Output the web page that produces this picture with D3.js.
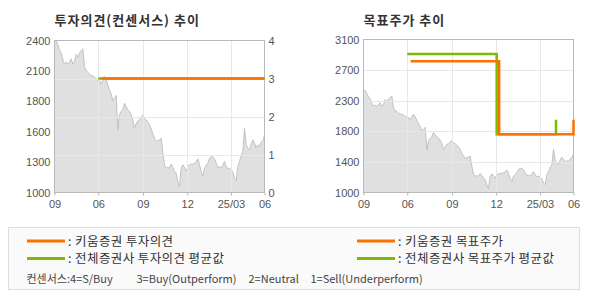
<!DOCTYPE html>
<html>
<head>
<meta charset="utf-8">
<title>투자의견 / 목표주가 추이</title>
<style>
  body { margin: 0; background: #fff; }
  svg text { font-family: "Liberation Sans", Arial, sans-serif; }
  .kr { font-family: "Noto Sans CJK KR", sans-serif; }
  .axis text { fill: #555; font-size: 11px; }
  .axis line { stroke: #b5b5b5; }
  .axis path { display: none; }
  .grid line { stroke: #e8e8e8; shape-rendering: crispEdges; }
</style>
<script src="https://cdn.jsdelivr.net/npm/d3@7"></script>
</head>
<body>
<script>
// ---- data ----
var startDate = "2024-03-03", endDate = "2025-05-09";

// closing price, evenly spaced from startDate to endDate
var prices = [
  2397, 2400, 2360, 2314, 2284, 2222, 2182, 2201, 2182, 2201, 2231, 2182, 2207, 2274, 2244, 2284,
  2305, 2324, 2161, 2121, 2109, 2090, 2078, 2075, 2063, 2047, 2035, 2029, 1998, 2038, 2072, 2038,
  1992, 1946, 1906, 1845, 1869, 1894, 1578, 1716, 1746, 1762, 1823, 1792, 1762, 1746, 1716, 1670,
  1593, 1630, 1660, 1670, 1691, 1716, 1679, 1670, 1648, 1624, 1587, 1538, 1501, 1470, 1476, 1485,
  1501, 1363, 1255, 1224, 1231, 1224, 1261, 1231, 1194, 1178, 1102, 1056, 1224, 1255, 1231, 1194,
  1240, 1255, 1261, 1261, 1267, 1286, 1310, 1255, 1194, 1148, 1224, 1249, 1270, 1317, 1329, 1329,
  1310, 1270, 1231, 1237, 1224, 1255, 1286, 1240, 1218, 1224, 1209, 1188, 1132, 1108, 1240, 1286,
  1341, 1378, 1593, 1439, 1409, 1393, 1445, 1485, 1455, 1409, 1439, 1424, 1464, 1470, 1532
];

var tickDates = ["2024-03-03", "2024-06-01", "2024-09-01", "2024-12-01", "2025-03-01", "2025-05-09"];
var tickLabels = ["09", "06", "09", "12", "25/03", "06"];

var ratingTicks = [0, 1, 2, 3, 4];
var priceLabelsLeft = ["1000", "1300", "1600", "1800", "2100", "2400"];
var priceLabelsRight = ["1000", "1400", "1800", "2300", "2700", "3100"];

// 투자의견 (4=S/Buy ... 1=Sell)
var ratingKiwoom = [["2024-06-08", 3], ["2025-05-09", 3]];
var ratingConsensus = [["2024-06-01", 3], ["2025-05-09", 3]];

// 목표주가
var targetKiwoom = [["2024-06-08", 2800], ["2024-12-07", 1800], ["2025-05-09", 2000]];
var targetConsensus = [["2024-06-01", 2900], ["2024-12-02", 1800], ["2025-04-03", 2000]];

var legendLeft = ["키움증권 투자의견", "전체증권사 투자의견 평균값"];
var legendRight = ["키움증권 목표주가", "전체증권사 목표주가 평균값"];
var consensusNote = ["컨센서스:4=S/Buy", "3=Buy(Outperform)", "2=Neutral", "1=Sell(Underperform)"];

// ---- setup ----
var orange = "#fb7200", green = "#7cba08";
var parse = d3.timeParse("%Y-%m-%d");
var t0 = parse(startDate), t1 = parse(endDate);
var priceData = prices.map(function(v, i) {
  return { date: d3.interpolateDate(t0, t1)(i / (prices.length - 1)), value: v };
});

var svg = d3.select("body").append("svg")
    .attr("width", 590)
    .attr("height", 300);

function panel(o) {
  var x = d3.scaleTime().domain([t0, t1]).range([o.left, o.right]);
  var yP = d3.scaleLinear().domain(o.priceDomain).range([o.bottom, o.top]);
  var g = svg.append("g");

  g.append("text")
      .attr("class", "kr")
      .attr("x", o.left)
      .attr("y", 25)
      .attr("font-size", "13px")
      .attr("font-weight", "bold")
      .attr("letter-spacing", "1px")
      .attr("fill", "#333")
      .text(o.title);

  // price area
  g.append("path")
      .datum(priceData)
      .attr("fill", "#e0e0e0")
      .attr("d", d3.area()
          .x(function(d) { return x(d.date); })
          .y0(o.bottom)
          .y1(function(d) { return yP(d.value); }));
  g.append("path")
      .datum(priceData)
      .attr("fill", "none")
      .attr("stroke", "#c2c2c2")
      .attr("stroke-width", 1)
      .attr("d", d3.line()
          .x(function(d) { return x(d.date); })
          .y(function(d) { return yP(d.value); }));

  // grid
  var grid = g.append("g").attr("class", "grid");
  grid.selectAll(".v")
      .data(tickDates.slice(1, -1))
      .enter().append("line")
      .attr("x1", function(d) { return Math.round(x(parse(d))) + 0.5; })
      .attr("x2", function(d) { return Math.round(x(parse(d))) + 0.5; })
      .attr("y1", o.top)
      .attr("y2", o.bottom);
  grid.selectAll(".h")
      .data(o.hGrid)
      .enter().append("line")
      .attr("x1", o.left)
      .attr("x2", o.right)
      .attr("y1", function(d) { return Math.round(o.hScale(d)) + 0.5; })
      .attr("y2", function(d) { return Math.round(o.hScale(d)) + 0.5; });

  // frame
  g.append("rect")
      .attr("x", o.left)
      .attr("y", o.top)
      .attr("width", o.right - o.left)
      .attr("height", o.bottom - o.top)
      .attr("fill", "none")
      .attr("stroke", "#b9b9b9")
      .attr("shape-rendering", "crispEdges");

  // left price axis, labels evenly spaced
  var step = (o.priceDomain[1] - o.priceDomain[0]) / (o.priceLabels.length - 1);
  g.append("g")
      .attr("class", "axis")
      .attr("transform", "translate(" + o.left + ",0)")
      .call(d3.axisLeft(yP)
          .tickValues(o.priceLabels.map(function(d, i) { return o.priceDomain[0] + i * step; }))
          .tickFormat(function(d, i) { return o.priceLabels[i]; })
          .tickSize(0).tickPadding(4));

  g.append("g")
      .attr("class", "axis")
      .attr("transform", "translate(0," + o.bottom + ")")
      .call(d3.axisBottom(x)
          .tickValues(tickDates.map(parse))
          .tickFormat(function(d, i) { return tickLabels[i]; })
          .tickSize(3).tickPadding(5));

  return { g: g, x: x, yP: yP };
}

function stepLine(p, data, y, color) {
  p.g.append("path")
      .datum(data)
      .attr("fill", "none")
      .attr("stroke", color)
      .attr("stroke-width", 2.5)
      .attr("d", d3.line()
          .curve(d3.curveStepAfter)
          .x(function(d) { return p.x(parse(d[0])); })
          .y(function(d) { return y(d[1]); }));
}

// ---- left: 투자의견 ----
var yR = d3.scaleLinear().domain([0, 4]).range([192.5, 40.5]);
var left = panel({
  title: "투자의견(컨센서스) 추이",
  left: 54.5, right: 264.5, top: 40.5, bottom: 192.5,
  priceDomain: [1000, 2400], priceLabels: priceLabelsLeft,
  hGrid: ratingTicks.slice(1, -1), hScale: yR
});
left.g.append("g")
    .attr("class", "axis")
    .attr("transform", "translate(264.5,0)")
    .call(d3.axisRight(yR).tickValues(ratingTicks).tickFormat(d3.format("d"))
        .tickSize(0).tickPadding(4));
stepLine(left, ratingConsensus, yR, green);
stepLine(left, ratingKiwoom, yR, orange);

// ---- right: 목표주가 ----
var yT = d3.scaleLinear().domain([1000, 3100]).range([192.5, 39.5]);
var right = panel({
  title: "목표주가 추이",
  left: 363.5, right: 573.5, top: 39.5, bottom: 192.5,
  priceDomain: [1000, 3100], priceLabels: priceLabelsRight,
  hGrid: d3.range(1, 5).map(function(i) { return 1000 + i * 420; }), hScale: yT
});
stepLine(right, targetConsensus, right.yP, green);
stepLine(right, targetKiwoom, right.yP, orange);

// ---- legend ----
var lg = svg.append("g");
lg.append("rect")
    .attr("x", 8.5).attr("y", 227.5)
    .attr("width", 571).attr("height", 62)
    .attr("fill", "#fafafa")
    .attr("stroke", "#dedede");

function legendCol(names, x) {
  names.forEach(function(name, i) {
    var y = 241 + i * 17.5;
    lg.append("line")
        .attr("x1", x).attr("x2", x + 38)
        .attr("y1", y).attr("y2", y)
        .attr("stroke", i === 0 ? orange : green)
        .attr("stroke-width", 3);
    lg.append("text")
        .attr("class", "kr")
        .attr("x", x + 41)
        .attr("y", y + 4.5)
        .attr("font-size", "12.5px")
        .attr("letter-spacing", "0.4px")
        .attr("fill", "#333")
        .text(": " + name);
  });
}
legendCol(legendLeft, 27);
legendCol(legendRight, 357);

var noteX = [26.5, 136.5, 248.5, 310.5];
consensusNote.forEach(function(s, i) {
  lg.append("text")
      .attr("class", "kr")
      .attr("x", noteX[i])
      .attr("y", 283)
      .attr("font-size", "11px")
      .attr("fill", "#444")
      .text(s);
});
</script>
</body>
</html>
